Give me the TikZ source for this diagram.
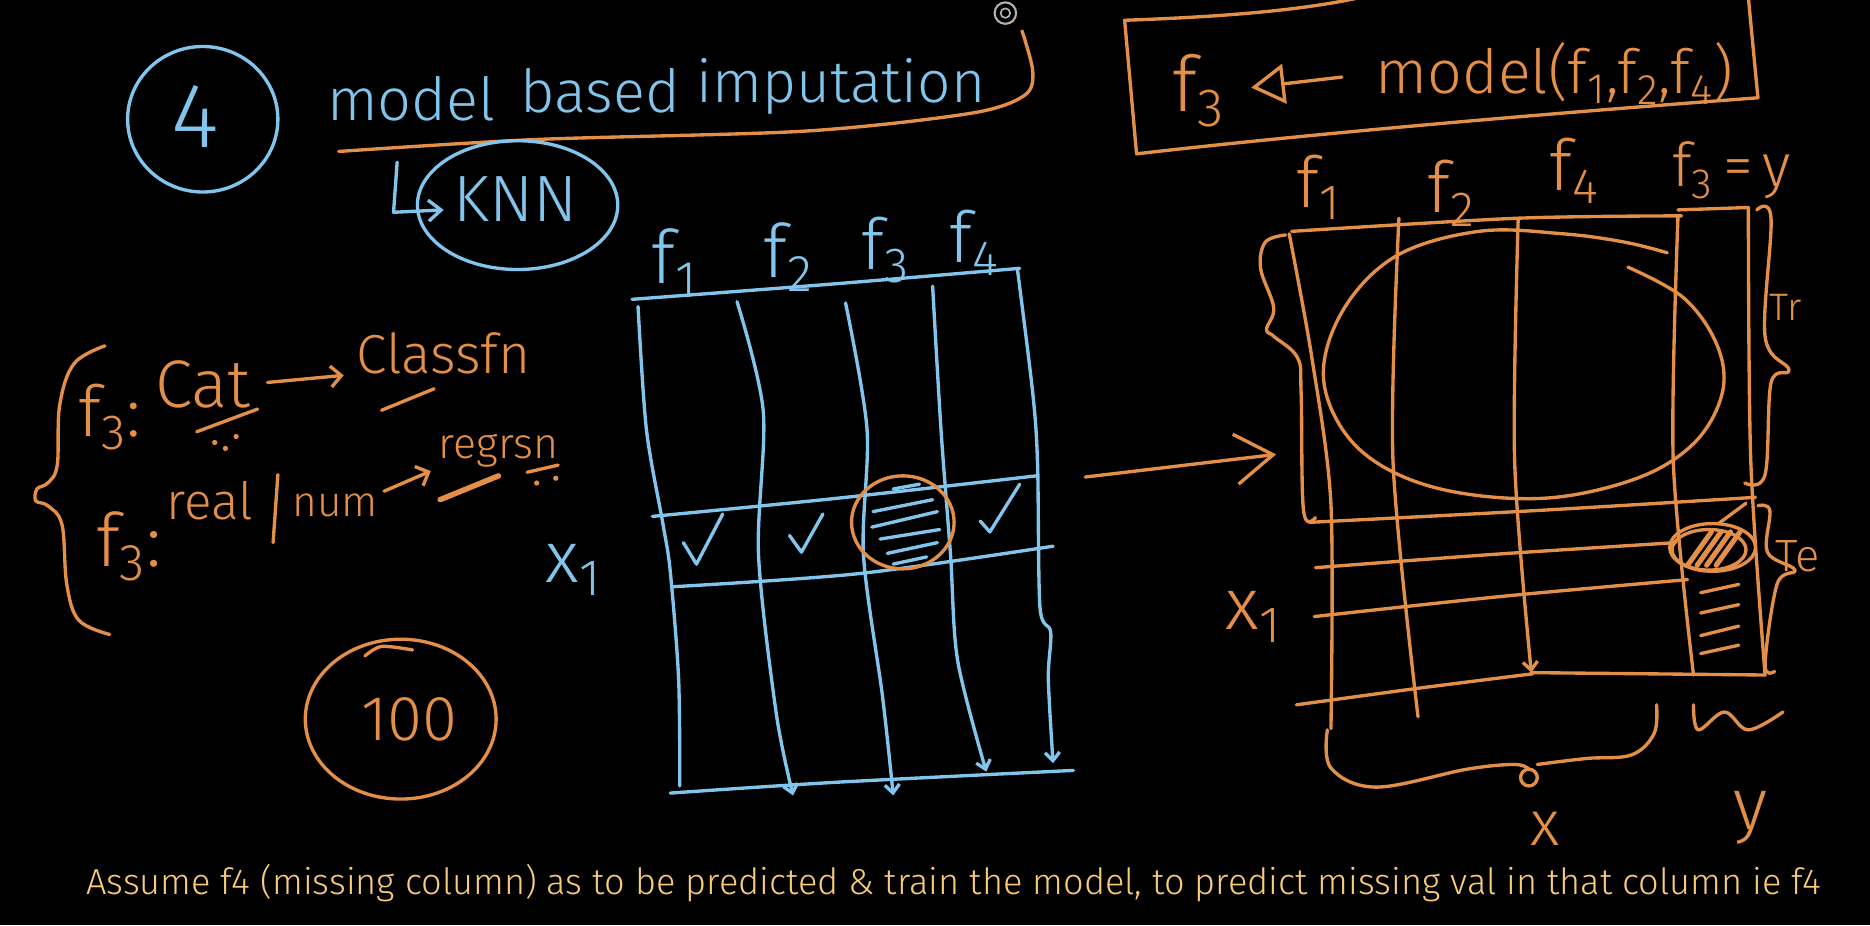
\documentclass[tikz,border=0pt]{standalone}
\usepackage{fontspec}
\setmainfont{Fira Sans}[UprightFont=* Light]
\usetikzlibrary{arrows.meta}

\definecolor{chalkblue}{RGB}{130,197,236}
\definecolor{chalkorange}{RGB}{228,143,72}
\definecolor{subtitle}{RGB}{250,204,120}

% one unit of the picture
\newlength\hwu
\setlength\hwu{0.02cm}
\newcommand{\hww}[2]{\resizebox{#1\hwu}{!}{#2}}
\newcommand{\hwh}[2]{\resizebox{!}{#1\hwu}{#2}}

\begin{document}
\begin{tikzpicture}[x=0.02cm, y=-0.02cm, line cap=round, line join=round,
    blueink/.style={draw=chalkblue, line width=1.6pt},
    orangeink/.style={draw=chalkorange, line width=1.6pt},
    bluetext/.style={text=chalkblue, inner sep=0pt},
    orangetext/.style={text=chalkorange, inner sep=0pt},
    tick/.style={-{Straight Barb[length=4pt, width=7pt]}},
    every node/.style={font=\fontsize{30}{30}\selectfont}]

  \fill[black] (0,0) rectangle (1568,776);
  \useasboundingbox (0,0) rectangle (1568,776);

  % heading
  \draw[blueink] (170,100) ellipse (63 and 61);
  \node[bluetext] (four) at (164,98) {\hwh{52}{4}};
  \node[bluetext, anchor=base west] (wmodel) at (274,101) {\hwh{37}{model}};
  \node[bluetext, anchor=base west] (wbased) at (436,94) {\hwh{37}{based}};
  \node[bluetext, anchor=base west] (wimput) at (584,86) {\hwh{37}{imputation}};
  \draw[orangeink] plot[smooth, tension=0.5] coordinates {(284,127) (449,117) (674,110) (814,95) (859,80) (866,60) (857,26)};
  \draw[gray!60, line width=1pt] (843,11) circle (9);
  \draw[gray!60, line width=0.8pt] (843,11) circle (4);

  \draw[blueink, -{Straight Barb[length=6pt, width=10pt]}] (333,136) -- (330,178) -- (372,176);
  \node[bluetext, anchor=base west] (knn) at (380,186) {\hww{104}{KNN}};
  \draw[blueink] (434,172) ellipse (84 and 54);

  % left table
  \node[bluetext, anchor=base west] (bf1) at (546,238) {\hwh{46}{f\textsubscript{1}}};
  \node[bluetext, anchor=base west] (bf2) at (640,233) {\hwh{46}{f\textsubscript{2}}};
  \node[bluetext, anchor=base west] (bf3) at (722,226) {\hwh{44}{f\textsubscript{3}}};
  \node[bluetext, anchor=base west] (bf4) at (796,220) {\hwh{44}{f\textsubscript{4}}};

  \draw[blueink] plot[smooth] coordinates {(530,251) (700,238) (855,225)};
  \draw[blueink] plot[smooth] coordinates {(535,257) (542,360) (556,440) (562,479) (569,569) (570,659)};
  \draw[blueink, tick] plot[smooth] coordinates {(618,253) (640,345) (636,465) (651,599) (665,667)};
  \draw[blueink, tick] plot[smooth] coordinates {(709,254) (727,360) (724,465) (740,584) (749,667)};
  \draw[blueink, tick] plot[smooth] coordinates {(782,240) (789,360) (797,465) (803,554) (827,647)};
  \draw[blueink, tick] plot[smooth] coordinates {(853,225) (866,330) (870,389) (872,509) (881,530) (879,569) (883,640)};
  \draw[blueink] plot[smooth] coordinates {(562,665) (700,656) (900,646)};
  \draw[blueink] plot[smooth] coordinates {(547,433) (700,418) (869,399)};
  \draw[blueink] plot[smooth] coordinates {(564,492) (720,481) (883,458)};

  \draw[blueink] (573,455) -- (584,473) -- (606,431);
  \draw[blueink] (662,449) -- (672,463) -- (690,431);
  \draw[blueink] (822,437) -- (830,446) -- (855,406);
  \foreach \ya/\yb/\xa/\xb in {410/406/749/771, 429/419/732/782, 442/429/731/786, 452/444/738/788, 464/455/744/786, 473/467/749/777}
    \draw[blueink] (\xa,\ya) -- (\xb,\yb);
  \draw[orangeink] (757,438) ellipse (43 and 39);
  \node[bluetext] (bx1) at (481,478) {\hwh{32}{x\textsubscript{1}}};

  % classification or regression
  \draw[orangeink] plot[smooth, tension=0.6] coordinates {(88,290) (62,305) (50,340) (48,390) (40,405) (31,410) (30,420) (40,424) (52,440) (56,490) (66,520) (92,532)};
  \node[orangetext] (catf3) at (92,350) {\hwh{44}{f\textsubscript{3}:}};
  \node[orangetext] (cat) at (170,322) {\hww{80}{Cat}};
  \node[orangetext] (classfn) at (372,296) {\hww{146}{Classfn}};
  \draw[orangeink, -{Straight Barb[length=5pt, width=10pt]}, shorten <=8pt, shorten >=6pt] (cat.east) -- (classfn.south west);
  \draw[orangeink] (165,362) -- (216,343);
  \fill[chalkorange] (180,371) circle (2.2) (198,366) circle (2.2) (189,376) circle (2.2);
  \draw[orangeink] (320,344) -- (364,326);

  \node[orangetext] (numf3) at (108,458) {\hwh{46}{f\textsubscript{3}:}};
  \node[orangetext] (real) at (176,420) {\hwh{32}{real}};
  \draw[orangeink] (233,398) -- (229,455);
  \node[orangetext] (num) at (281,424) {\hwh{19}{num}};
  \node[orangetext] (regrsn) at (418,378) {\hww{100}{regrsn}};
  \draw[orangeink, -{Straight Barb[length=5pt, width=10pt]}, shorten <=3pt, shorten >=4pt] (num.north east) -- (regrsn.south west);
  \draw[chalkorange, line width=2.6pt] (369,419) -- (418,399);
  \draw[orangeink] (442,396) -- (468,390);
  \fill[chalkorange] (450,405) circle (2.2) (466,401) circle (2.2);

  \draw[orangeink] (336,603) ellipse (80 and 67);
  \draw[orangeink] plot[smooth] coordinates {(306,550) (320,542) (346,545)};
  \node[orangetext] (hundred) at (343,603) {\hwh{36}{100}};

  \draw[orangeink, -{Straight Barb[length=18pt, width=24pt]}] (910,400) -- (1070,381);

  % model box
  \draw[orangeink] (1140,-2) .. controls (1095,8) and (1030,14) .. (943,17) -- (953,129)
    .. controls (1100,112) and (1300,95) .. (1474,82) -- (1466,-2);
  \node[orangetext] (boxf3) at (1005,76) {\hwh{48}{f\textsubscript{3}}};
  \node[orangetext, anchor=base west] (model) at (1153,78) {\hww{300}{model(f\textsubscript{1},f\textsubscript{2},f\textsubscript{4})}};
  \draw[orangeink, {Triangle[open, length=16pt, width=19pt]}-, shorten <=22\hwu, shorten >=28\hwu] (boxf3.east) -- (model.west);

  % right table
  \node[orangetext] (of1) at (1106,157) {\hwh{44}{f\textsubscript{1}}};
  \node[orangetext] (of2) at (1217,162) {\hwh{44}{f\textsubscript{2}}};
  \node[orangetext] (of4) at (1320,143) {\hwh{44}{f\textsubscript{4}}};
  \node[orangetext] (of3y) at (1452,143) {\hww{100}{f\textsubscript{3}\,=\,y}};

  \draw[orangeink] plot[smooth] coordinates {(1083,194) (1272,183) (1410,181)};
  \draw[orangeink] plot[smooth] coordinates {(1081,196) (1100,300) (1116,423) (1116,611)};
  \draw[orangeink] plot[smooth] coordinates {(1173,183) (1168,386) (1189,601)};
  \draw[orangeink, tick] plot[smooth] coordinates {(1273,183) (1270,386) (1284,564)};
  \draw[orangeink] plot[smooth] coordinates {(1407,181) (1403,386) (1420,566)};
  \draw[orangeink] (1407,176) -- (1466,174);
  \draw[orangeink] plot[smooth] coordinates {(1466,174) (1468,386) (1480,566)};
  \draw[orangeink] (1284,564) -- (1480,566);
  \draw[orangeink] plot[smooth] coordinates {(1098,438) (1290,428) (1472,417)};
  \draw[orangeink] plot[smooth] coordinates {(1103,476) (1250,465) (1405,455)};
  \draw[orangeink] plot[smooth] coordinates {(1102,517) (1260,500) (1415,486)};
  \draw[orangeink] plot[smooth] coordinates {(1087,591) (1190,577) (1285,565)};
  \draw[orangeink] (1464,422) -- (1441,439);

  \draw[orangeink] plot[smooth, tension=0.6] coordinates {(1365,224) (1412,250) (1440,290) (1444,330) (1420,372) (1370,402) (1290,418) (1200,408) (1138,375) (1110,320) (1125,262) (1170,215) (1240,194) (1310,196) (1362,203) (1398,212)};

  \draw[orangeink] (1436,459) ellipse (36 and 20);
  \draw[orangeink] (1433,461) ellipse (31 and 17);
  \foreach \d in {-12,-4,4,12}
    \draw[chalkorange, line width=2.4pt] (1427+\d,474) -- (1447+\d,446);
  \foreach \ya/\yb in {497/490, 514/507, 533/525, 548/541}
    \draw[orangeink] (1426,\ya) -- (1458,\yb);

  \draw[orangeink] plot[smooth, tension=0.6] coordinates {(1078,197) (1061,203) (1057,225) (1068,258) (1062,276) (1068,282) (1088,300) (1091,330) (1093,428) (1103,434)};
  \draw[orangeink] plot[smooth, tension=0.6] coordinates {(1473,176) (1485,183) (1480,282) (1500,310) (1485,321) (1480,398) (1463,405)};
  \draw[orangeink] plot[smooth, tension=0.6] coordinates {(1474,424) (1484,428) (1482,463) (1505,478) (1490,490) (1480,557) (1488,563)};
  \node[orangetext] (tr) at (1497,258) {\hwh{22}{Tr}};
  \node[orangetext] (te) at (1507,466) {\hwh{26}{Te}};
  \node[orangetext] (ox1) at (1051,517) {\hwh{32}{x\textsubscript{1}}};

  \draw[orangeink] plot[smooth, tension=0.6] coordinates {(1113,612) (1116,644) (1154,660) (1230,645) (1270,641) (1282,645)};
  \draw[orangeink] (1282,652) circle (7);
  \draw[orangeink] plot[smooth, tension=0.6] coordinates {(1289,641) (1330,636) (1368,633) (1387,615) (1389,591)};
  \draw[orangeink] plot[smooth, tension=0.6] coordinates {(1420,591) (1424,612) (1446,597) (1466,612) (1495,597)};
  \node[orangetext] (xlab) at (1296,695) {\hwh{28}{x}};
  \node[orangetext] (ylab) at (1468,686) {\hwh{32}{y}};

  \node[text=subtitle, anchor=base west, inner sep=0pt, font=\fontsize{16}{16}\selectfont] (caption) at (72,750)
    {\hww{1455}{Assume f4 (missing column) as to be predicted \& train the model, to predict missing val in that column ie f4}};
\end{tikzpicture}
\end{document}
